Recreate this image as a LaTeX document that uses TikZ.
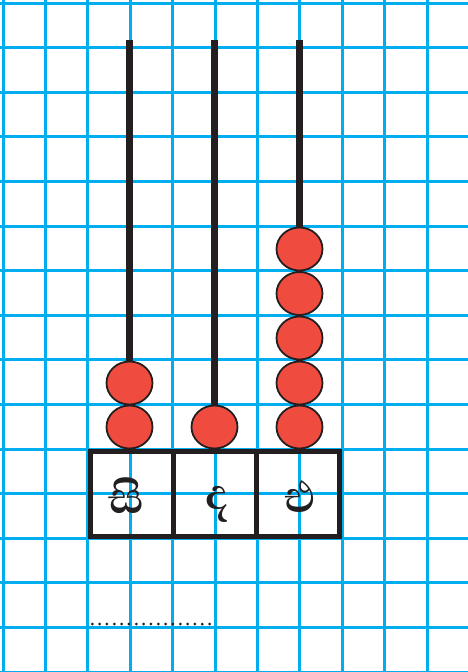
\documentclass[tikz,border=0pt]{standalone}
\usepackage{fontspec}
\newfontfamily\sinhalafont[Script=Sinhala]{Abhaya Libre}
\usetikzlibrary{shapes.geometric}
\definecolor{gridblue}{HTML}{00AEEF}
\definecolor{beadred}{HTML}{EF4B3F}
\definecolor{inkdark}{HTML}{231F20}
\tikzset{
    gridline/.style={gridblue, line width=3pt},
    rod/.style={inkdark, line width=7.5pt},
    bead/.style={draw=inkdark, fill=beadred, ellipse, line width=1.8pt, minimum width=46pt, minimum height=43pt, inner sep=0pt},
    placebox/.style={draw=inkdark, line width=5pt, minimum width=83pt, minimum height=85pt, inner sep=0pt},
    digit/.style={font=\sinhalafont\bfseries\fontsize{56}{60}\selectfont, text=inkdark, inner sep=0pt}
}
\begin{document}
\begin{tikzpicture}[x=1pt, y=1pt]
    \useasboundingbox (0,-672) rectangle (468,0);

    % Grid
    \foreach \i in {0,...,11}
        \draw[gridline] ({3+42.4*\i},-672) -- ({3+42.4*\i},0);
    \foreach \j in {0,...,15}
        \draw[gridline] (0,{-3-44.6*\j}) -- (468,{-3-44.6*\j});

    % Place value boxes
    \node[placebox] (hund) at (131.5, -493.5) {};
    \node[placebox] (tens) at (215, -493.5) {};
    \node[placebox] (ones) at (298, -493.5) {};
    \node[digit] (hundlbl) at (127, -496) {සි};
    \node[digit] (tenslbl) at (218, -504.5) {ද};
    \node[digit] (oneslbl) at (300.5, -496.5) {එ};

    % Rods
    \coordinate (hundtop) at (129.5, -40);
    \coordinate (tenstop) at (214.5, -40);
    \coordinate (onestop) at (299.5, -40);
    \draw[rod] (hundtop) -- (hundtop |- hund.north);
    \draw[rod] (tenstop) -- (tenstop |- tens.north);
    \draw[rod] (onestop) -- (onestop |- ones.north);

    % Beads
    \node[bead] (ha) at (129.5, -427) {};
    \node[bead] (hb) at (129.5, -383) {};
    \node[bead] (ta) at (214.5, -427) {};
    \node[bead] (oa) at (299.5, -427) {};
    \node[bead] (ob) at (299.5, -383) {};
    \node[bead] (oc) at (299.5, -338) {};
    \node[bead] (od) at (299.5, -293.5) {};
    \node[bead] (oe) at (299.5, -249) {};

    % Answer line
    \coordinate (dotstart) at (92.3, -624);
    \coordinate (dotend) at (210, -624);
    \draw[inkdark, line width=3pt, line cap=round, dash pattern=on 0pt off 7.33pt] (dotstart) -- (dotend);
\end{tikzpicture}
\end{document}
